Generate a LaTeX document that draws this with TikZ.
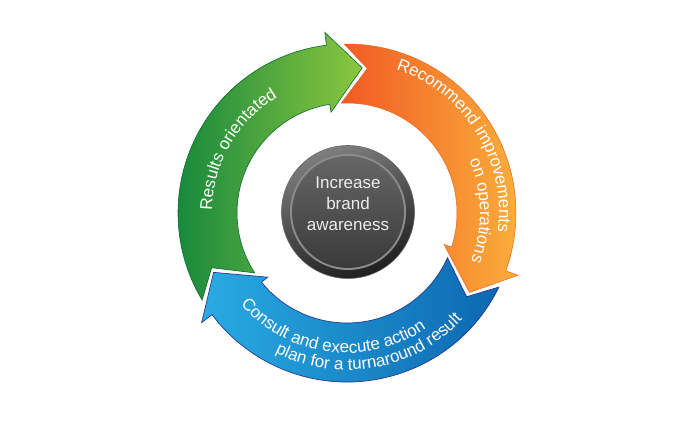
\documentclass[tikz,border=0pt]{standalone}
\usepackage{fontspec}
\setmainfont{Liberation Sans}
\usetikzlibrary{decorations.text}
\definecolor{gdark}{HTML}{13873D}
\definecolor{glight}{HTML}{8CC63F}
\definecolor{gline}{HTML}{0B6A2F}
\definecolor{ored}{HTML}{F15A24}
\definecolor{oyel}{HTML}{FBB03B}
\definecolor{oline}{HTML}{E8651E}
\definecolor{blight}{HTML}{29ABE2}
\definecolor{bdark}{HTML}{0C67B1}
\definecolor{bline}{HTML}{283A8F}
\definecolor{btnouter}{HTML}{1E1E1E}
\definecolor{btntop}{HTML}{7E7E7E}
\definecolor{btnedge}{HTML}{6A6A6A}
\definecolor{btnring}{HTML}{8C8C8C}
\definecolor{disctop}{HTML}{666666}
\definecolor{discbot}{HTML}{3A3A3A}
\definecolor{btntext}{HTML}{EDEDED}
% #1 style, #2 previous head angle, #3 head angle
\newcommand\cyclearrow[3]{%
  \path[#1] ({#2-6}:169pt) arc[start angle={#2-6}, end angle={#3}, radius=169pt]
    -- (#3:182pt) -- ({#3-13}:146pt) -- ({#3+2}:102pt) -- ({#3+2}:110pt)
    arc[start angle={#3+2}, end angle={#2-4}, radius=110pt]
    -- ({#2-15}:146pt) -- cycle;}
\tikzset{
  greenarrow/.style={left color=gdark, right color=glight, draw=gline, line width=0.6pt},
  orangearrow/.style={left color=ored, right color=oyel, draw=oline, line width=0.5pt},
  bluearrow/.style={left color=blight, right color=bdark, draw=bline, line width=0.7pt},
  arctext/.style={decorate, decoration={text along path, text align=center,
      text format delimiters={|}{|}}},
  centertext/.style={align=center, text=btntext, font=\fontsize{17}{21}\selectfont}
}
\begin{document}
\begin{tikzpicture}
\useasboundingbox (0,0) rectangle (700pt,430pt);
\fill[white] (0,0) rectangle (700pt,430pt);
\begin{scope}[shift={(347pt,217pt)}]
  \cyclearrow{greenarrow}{217}{97}
  \cyclearrow{orangearrow}{97}{-20}
  \cyclearrow{bluearrow}{-20}{-143}
  % texts
  \path[arctext, decoration={text={|\fontsize{17}{20}\selectfont\color{white}|Results orientated}}]
    (185:135pt) arc[start angle=185, end angle=115, radius=135pt];
  \path[arctext, decoration={text={|\fontsize{17}{20}\selectfont\color{white}|Recommend improvements}}]
    (77:152pt) arc[start angle=77, end angle=-13, radius=152pt];
  \path[arctext, decoration={text={|\fontsize{17}{20}\selectfont\color{white}|on operations}}]
    (30:133pt) arc[start angle=30, end angle=-28, radius=133pt];
  \path[arctext, decoration={text={|\fontsize{17}{20}\selectfont\color{white}|Consult and execute action}}]
    (207.5:140pt) arc[start angle=207.5, end angle=317.5, radius=140pt];
  \path[arctext, decoration={text={|\fontsize{17}{20}\selectfont\color{white}|plan for a turnaround result}}]
    (230:157pt) arc[start angle=230, end angle=330, radius=157pt];
\end{scope}
% centre button
\node[circle, minimum size=133pt, inner sep=0pt, top color=btntop, bottom color=btnouter,
      shading angle=20, draw=btnedge, line width=0.6pt] (btn) at (348pt,218pt) {};
\node[circle, minimum size=116pt, inner sep=0pt, fill=btnring] (ring) at (btn.center) {};
\node[circle, minimum size=112pt, inner sep=0pt, top color=disctop, bottom color=discbot] (disc) at (btn.center) {};
\node[centertext] (label) at (348pt,226pt) {Increase\\brand\\awareness};
\end{tikzpicture}
\end{document}
